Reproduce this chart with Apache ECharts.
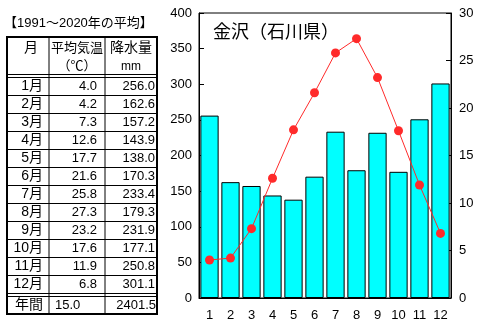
<!DOCTYPE html>
<html><head><meta charset="utf-8">
<script src="https://cdn.jsdelivr.net/npm/echarts@6/dist/echarts.min.js"></script>
<style>html,body{margin:0;padding:0;background:#fff}#c{width:480px;height:324px}</style>
</head><body><div id="c"></div>
<script>
const months = ['1','2','3','4','5','6','7','8','9','10','11','12'];
const monthLabels = ['1月','2月','3月','4月','5月','6月','7月','8月','9月','10月','11月','12月'];
const temperature = [4.0,4.2,7.3,12.6,17.7,21.6,25.8,27.3,23.2,17.6,11.9,6.8];
const precipitation = [256.0,162.6,157.2,143.9,138.0,170.3,233.4,179.3,231.9,177.1,250.8,301.1];
const annualTemp = '15.0';
const annualPrecip = '2401.5';
const periodTitle = '【1991～2020年の平均】';
const chartTitle = '金沢（石川県）';

const FF = '"Liberation Sans","Noto Sans CJK JP",sans-serif';
const chart = echarts.init(document.getElementById('c'));

const g = [];
function txt(x,y,t,align,size){ g.push({type:'text',x:x,y:y,style:{text:t,fill:'#000',font:(size||13)+'px '+FF,textAlign:align||'left',textVerticalAlign:'middle'}}); }
function ln(x1,y1,x2,y2,w){ g.push({type:'line',shape:{x1:x1,y1:y1,x2:x2,y2:y2},style:{stroke:'#000',lineWidth:w||1}}); }
// table
const T={l:7,t:37,r:157,b:314,c1:49,c2:105};
txt(4,23,periodTitle,'left',13);
g.push({type:'rect',shape:{x:T.l,y:T.t,width:T.r-T.l,height:T.b-T.t},style:{fill:'none',stroke:'#000',lineWidth:2}});
ln(T.c1,T.t,T.c1,T.b); ln(T.c2,T.t,T.c2,T.b);
ln(T.l,74.5,T.r,74.5); ln(T.l,77.5,T.r,77.5);
for(let i=1;i<12;i++){ const y=77.5+18*i; ln(T.l,y,T.r,y); }
ln(T.l,293.5,T.r,293.5); ln(T.l,296.5,T.r,296.5);
txt(31,48,'月','center',14);
txt(77,48,'平均気温','center',13);
txt(77,66,'（℃）','center',13);
txt(131,48,'降水量','center',14);
txt(131,67,'mm','center',12);
for(let i=0;i<12;i++){
  const y=86.5+18*i;
  txt(43,y,monthLabels[i],'right',14);
  txt(97,y,temperature[i].toFixed(1),'right',13);
  txt(155,y,precipitation[i].toFixed(1),'right',13);
}
txt(43,305,'年間','right',14);
txt(55,305,annualTemp,'left',13);
txt(156,305,annualPrecip,'right',13);
txt(213,33,chartTitle,'left',18);

chart.setOption({
  animation:false,
  grid:{left:199,top:13,right:29,bottom:26,show:true,borderColor:'#000',borderWidth:1,backgroundColor:'transparent'},
  xAxis:{type:'category',data:months,boundaryGap:true,
    axisLine:{lineStyle:{color:'#000'}},
    axisTick:{inside:true,length:3,lineStyle:{color:'#000'}},
    axisLabel:{color:'#000',fontFamily:FF,fontSize:13,margin:11}},
  yAxis:[
    {type:'value',min:0,max:400,interval:50,splitLine:{show:false},
     axisLine:{show:true,lineStyle:{color:'#000'}},
     axisTick:{show:true,inside:true,length:5,lineStyle:{color:'#000'}},
     axisLabel:{color:'#000',fontFamily:FF,fontSize:13,margin:7}},
    {type:'value',min:0,max:30,interval:5,splitLine:{show:false},
     axisLine:{show:true,lineStyle:{color:'#000'}},
     axisTick:{show:true,inside:true,length:5,lineStyle:{color:'#000'}},
     axisLabel:{color:'#000',fontFamily:FF,fontSize:13,margin:8}}
  ],
  series:[
    {type:'bar',data:precipitation,yAxisIndex:0,barCategoryGap:'13%',
     itemStyle:{color:'#00FFFF',borderColor:'#000',borderWidth:1}},
    {type:'line',data:temperature,yAxisIndex:1,symbol:'circle',symbolSize:9,
     lineStyle:{color:'#FF2A2A',width:1},itemStyle:{color:'#FF2A2A'}}
  ],
  graphic:g
});
</script></body></html>
